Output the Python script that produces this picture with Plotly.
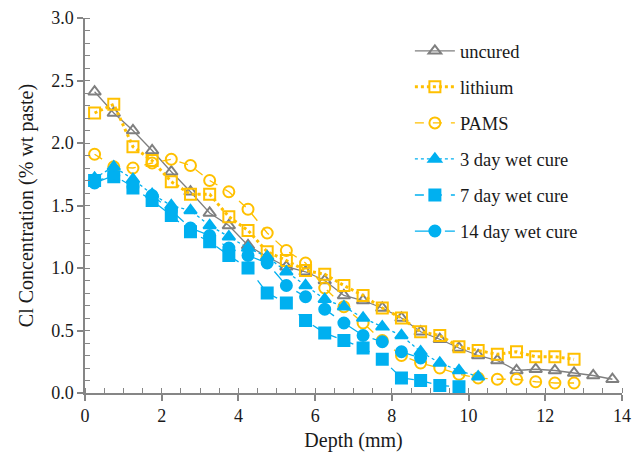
import plotly.graph_objects as go

# Chloride profiles: concentration (% wt paste) versus depth (mm)
depth = [0.25, 0.75, 1.25, 1.75, 2.25, 2.75, 3.25, 3.75, 4.25, 4.75,
         5.25, 5.75, 6.25, 6.75, 7.25, 7.75, 8.25, 8.75, 9.25, 9.75,
         10.25, 10.75, 11.25, 11.75, 12.25, 12.75, 13.25, 13.75]

uncured = [2.41, 2.24, 2.10, 1.94, 1.77, 1.61, 1.44, 1.34, 1.18, 1.09,
           1.01, 0.97, 0.90, 0.78, 0.74, 0.68, 0.60, 0.49, 0.43, 0.36,
           0.30, 0.26, 0.18, 0.19, 0.18, 0.16, 0.14, 0.11]
lithium = [2.24, 2.31, 1.97, 1.86, 1.69, 1.59, 1.59, 1.41, 1.30, 1.13,
           1.06, 0.98, 0.95, 0.86, 0.78, 0.68, 0.60, 0.49, 0.46, 0.37,
           0.34, 0.31, 0.33, 0.29, 0.29, 0.27]
pams = [1.91, 1.81, 1.80, 1.84, 1.87, 1.82, 1.70, 1.61, 1.47, 1.28,
        1.14, 1.04, 0.84, 0.69, 0.56, 0.42, 0.30, 0.24, 0.20, 0.15,
        0.12, 0.11, 0.11, 0.09, 0.08, 0.08]
wet3 = [1.72, 1.81, 1.71, 1.59, 1.50, 1.46, 1.34, 1.25, 1.16, 1.09,
        0.97, 0.86, 0.75, 0.69, 0.60, 0.53, 0.46, 0.33, 0.24, 0.18,
        0.13]
wet7 = [1.70, 1.73, 1.64, 1.54, 1.42, 1.29, 1.21, 1.10, 1.00, 0.80,
        0.72, 0.58, 0.48, 0.42, 0.36, 0.27, 0.12, 0.10, 0.06, 0.05]
wet14 = [1.68, 1.74, 1.65, 1.58, 1.46, 1.32, 1.26, 1.16, 1.10, 1.04,
         0.86, 0.77, 0.67, 0.56, 0.46, 0.41, 0.33, 0.28]

GRAY = "#7f7f7f"
ORANGE = "#FFC000"
BLUE = "#00B0F0"
TEXT = "#1a1a1a"
FONT = "Liberation Serif, Times New Roman, serif"

series = [
    ("uncured", uncured, GRAY, "solid", 1.3, "triangle-up-open", 11),
    ("lithium", lithium, ORANGE, "dot", 3, "square-open", 11),
    ("PAMS", pams, ORANGE, "dash", 1.3, "circle-open", 11),
    ("3 day wet cure", wet3, BLUE, "dot", 1.3, "triangle-up", 11),
    ("7 day wet cure", wet7, BLUE, "dash", 1.3, "square", 11),
    ("14 day wet cure", wet14, BLUE, "longdash", 1.3, "circle", 11),
]

fig = go.Figure()
for name, vals, color, dash, lw, symbol, size in series:
    fig.add_trace(go.Scatter(
        x=depth[:len(vals)], y=vals, name=name, mode="lines+markers",
        legendgroup=name,
        line=dict(color=color, dash=dash, width=lw),
        marker=dict(symbol=symbol, size=size, color=color,
                    line=dict(color=color, width=2)),
    ))

axis_common = dict(
    showline=True, linecolor="#868686", linewidth=1.5,
    showgrid=False, zeroline=False, automargin=False,
    ticks="outside", ticklen=6, tickwidth=1.5, tickcolor="#868686",
    tickfont=dict(family=FONT, size=18, color=TEXT),
    mirror=False,
)

fig.update_xaxes(
    range=[0, 14], dtick=2, tick0=0,
    minor=dict(dtick=0.5, ticks="inside", ticklen=5, tickwidth=1.2,
               tickcolor="#868686"),
    title=dict(text="Depth (mm)", font=dict(family=FONT, size=20, color=TEXT),
               standoff=13),
    **axis_common,
)
fig.update_yaxes(
    range=[0, 3], dtick=0.5, tick0=0, tickformat=".1f",
    minor=dict(dtick=0.1, ticks="inside", ticklen=5, tickwidth=1.2,
               tickcolor="#868686"),
    title=dict(text="Cl Concentration (% wt paste)",
               font=dict(family=FONT, size=20, color=TEXT), standoff=12),
    **axis_common,
)

fig.update_layout(
    width=641, height=452,
    margin=dict(l=85, r=19, t=18, b=59),
    paper_bgcolor="white", plot_bgcolor="white",
    showlegend=True,
    legend=dict(
        x=0.605, y=0.962, xanchor="left", yanchor="top",
        font=dict(family=FONT, size=18.5, color=TEXT),
        bgcolor="rgba(255,255,255,0)",
        tracegroupgap=9, traceorder="grouped",
        itemwidth=40,
    ),
)

fig.write_html("out.html")
